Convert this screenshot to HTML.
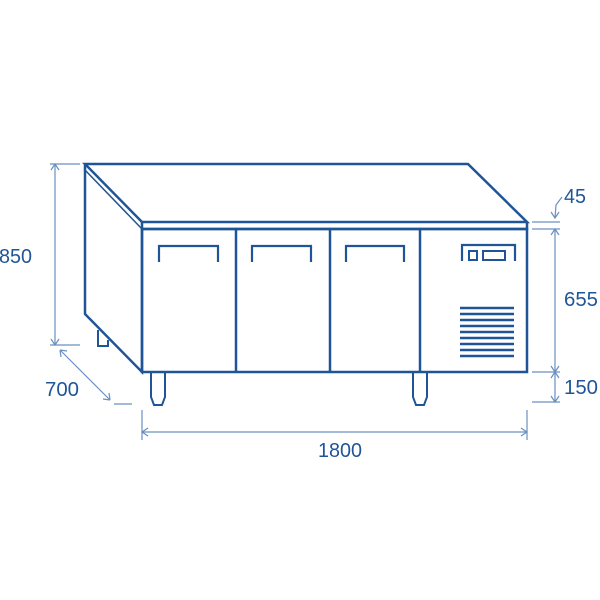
<!DOCTYPE html>
<html><head><style>body{margin:0;background:#fff}svg{display:block}</style></head><body>
<svg width="600" height="600" viewBox="0 0 600 600" xmlns="http://www.w3.org/2000/svg">
<g fill="none" stroke="#1f5597" stroke-width="2.5" stroke-linejoin="miter">
<path d="M85,164 L468,164 L527,222 L142,222 Z"/>
<path d="M142,222 L142,229 L527,229 L527,222"/>
<path d="M85,170 L142,229" stroke-width="1.5"/>
<path d="M85,164 L85,314 L142,372 L142,229"/>
<rect x="142" y="229" width="385" height="143"/>
<path d="M236,229V372M330,229V372M420,229V372"/>
<path d="M159,262V246H218V262M252,262V246H311V262M346,262V246H404V262M462,261V245H515V261" stroke-width="2.2"/>
<rect x="469" y="251" width="8" height="9" stroke-width="2"/>
<rect x="483" y="251" width="22" height="9" stroke-width="2"/>
<path d="M151,372V397L154,405H162L165,397V372M413,372V397L416,405H424L427,397V372M98,330V346H108V340" stroke-width="2"/>
</g>
<g stroke="#1f5597" stroke-width="2.5">
<path d="M460,308H514M460,314H514M460,320H514M460,326H514M460,332H514M460,338H514M460,344H514M460,350H514M460,356H514"/>
</g>
<g stroke="#6a8fc0" stroke-width="1.2" fill="none">
<path d="M55,164V345M50,164H80M50,345H80M51,170L55,164L59,170M51,339L55,345L59,339"/>
<path d="M60,350L110,400M60,350L61,357M60,350L67,351M110,400L109,393M110,400L103,399M114,404H132"/>
<path d="M142,432H527M142,410V440M527,410V440M148,428L142,432L148,436M521,428L527,432L521,436"/>
<path d="M555,229V402M532,222H560M532,229H560M532,372H560M532,402H560M551,235L555,229L559,235M551,396L555,402L559,396M551,366L555,372L559,366M551,378L555,372L559,378"/>
<path d="M555,218L556,205L562,197M551,212L555,218L559,212"/>
</g>
<g fill="#1f5597" font-family="Liberation Sans, sans-serif" font-size="20" lengthAdjust="spacingAndGlyphs">
<text x="-1" y="263" textLength="33" lengthAdjust="spacingAndGlyphs">850</text>
<text x="45" y="396" textLength="34" lengthAdjust="spacingAndGlyphs">700</text>
<text x="318" y="457" textLength="44" lengthAdjust="spacingAndGlyphs">1800</text>
<text x="564" y="203" textLength="22" lengthAdjust="spacingAndGlyphs">45</text>
<text x="564" y="306" textLength="34" lengthAdjust="spacingAndGlyphs">655</text>
<text x="564" y="394" textLength="34" lengthAdjust="spacingAndGlyphs">150</text>
</g>
</svg>
</body></html>
